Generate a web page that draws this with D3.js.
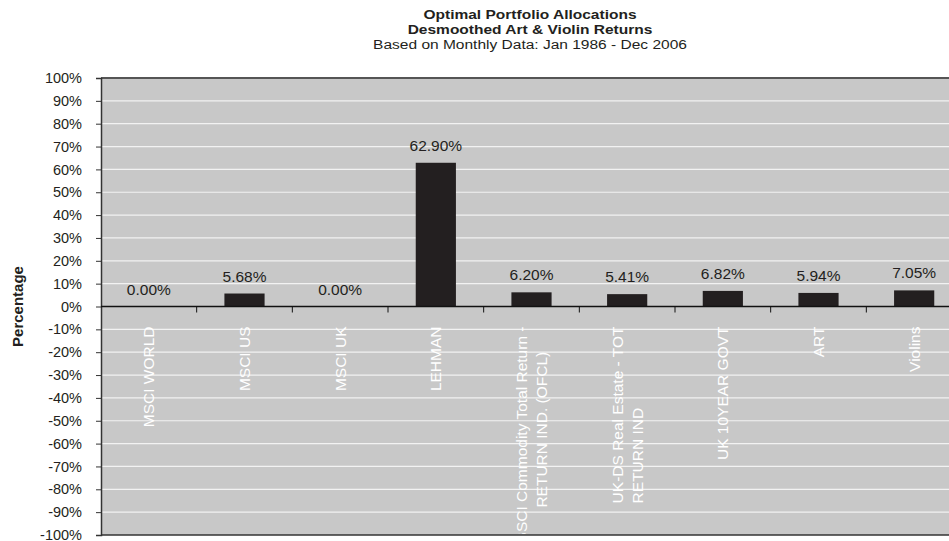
<!DOCTYPE html>
<head>
  <meta charset="utf-8" />
  <script src="https://d3js.org/d3.v7.min.js"></script>
  <style>
    body { margin: 0; background: #fff; }
    text { font-family: "Liberation Sans", Arial, sans-serif; }
  </style>
</head>
<body>
<script>
  // categories (label lines) and optimal weights
  var categories = ["MSCI WORLD", "MSCI US", "MSCI UK", "LEHMAN",
    "GSCI Commodity Total Return -|RETURN IND. (OFCL)",
    "UK-DS Real Estate - TOT|RETURN IND",
    "UK 10YEAR GOVT", "ART", "Violins"];
  var weights = [0.0000, 0.0568, 0.0000, 0.6290, 0.0620, 0.0541, 0.0682, 0.0594, 0.0705];
  var yTicks = d3.range(-10, 11).map(function (d) { return d / 10; });
  var titleLines = ["Optimal Portfolio Allocations", "Desmoothed Art & Violin Returns",
    "Based on Monthly Data: Jan 1986 - Dec 2006"];

  var width = 949, height = 541;
  // note: "top" is a reserved window property, so use plot* names
  var plotL = 101, plotR = 962, plotT = 78, plotB = 535;

  var svg = d3.select("body").append("svg")
    .attr("width", width).attr("height", height);

  var x = d3.scaleBand().domain(categories).range([plotL, plotR]).padding(0);
  var y = d3.scaleLinear().domain([-1, 1]).range([plotB, plotT]);

  // title (slightly wide lettering, tight leading)
  svg.append("g").selectAll("text").data(titleLines).join("text")
    .attr("transform", function (d, i) {
      return "translate(530," + (19 + i * 15) + ") scale(1.15,1)";
    })
    .attr("text-anchor", "middle")
    .attr("font-size", 13.5)
    .attr("font-weight", function (d, i) { return i < 2 ? "bold" : "normal"; })
    .attr("fill", "#231f20")
    .text(function (d) { return d; });

  // plot background
  svg.append("rect")
    .attr("x", plotL).attr("y", plotT)
    .attr("width", plotR - plotL).attr("height", plotB - plotT)
    .attr("fill", "#c8c8c8");

  // gridlines
  svg.append("g").selectAll("line")
    .data(yTicks.filter(function (d) { return Math.abs(d) > 0.001 && Math.abs(d) < 0.999; }))
    .join("line")
    .attr("x1", plotL).attr("x2", plotR)
    .attr("y1", function (d) { return y(d); }).attr("y2", function (d) { return y(d); })
    .attr("stroke", "#f2f2f2").attr("stroke-width", 1.2);

  // top / bottom borders
  svg.append("line").attr("x1", plotL).attr("x2", plotR)
    .attr("y1", plotT).attr("y2", plotT).attr("stroke", "#555").attr("stroke-width", 2);
  svg.append("line").attr("x1", plotL).attr("x2", plotR)
    .attr("y1", plotB).attr("y2", plotB).attr("stroke", "#333").attr("stroke-width", 1.5);

  // y axis
  var yAxis = d3.axisLeft(y).tickValues(yTicks)
    .tickSize(5).tickPadding(14)
    .tickFormat(function (d) { return Math.round(d * 100) + "%"; });
  var ya = svg.append("g").attr("transform", "translate(" + plotL + ",0)").call(yAxis);
  ya.select(".domain").attr("stroke", "#333").attr("stroke-width", 1.5);
  ya.selectAll(".tick line").attr("stroke", "#333");
  ya.selectAll(".tick text").attr("font-size", 14.5).attr("fill", "#231f20")
    .attr("font-family", "Liberation Sans, Arial, sans-serif");

  svg.append("text")
    .attr("transform", "translate(23," + y(0) + ") rotate(-90)")
    .attr("text-anchor", "middle")
    .attr("font-size", 15).attr("font-weight", "bold").attr("fill", "#231f20")
    .text("Percentage");

  // bars
  var barW = x.bandwidth() * 0.42;
  svg.append("g").selectAll("rect").data(weights).join("rect")
    .attr("x", function (d, i) { return x(categories[i]) + (x.bandwidth() - barW) / 2; })
    .attr("y", function (d) { return y(d); })
    .attr("width", barW)
    .attr("height", function (d) { return y(0) - y(d); })
    .attr("fill", "#231f20");

  // zero line with category ticks
  var xa = svg.append("g").attr("transform", "translate(0," + y(0) + ")");
  xa.append("line").attr("x1", plotL).attr("x2", plotR)
    .attr("stroke", "#111").attr("stroke-width", 1.5);
  xa.selectAll(".ctick").data(categories.slice(1)).join("line")
    .attr("class", "ctick")
    .attr("x1", function (d) { return x(d); }).attr("x2", function (d) { return x(d); })
    .attr("y1", 0).attr("y2", 6).attr("stroke", "#111");

  // value labels
  svg.append("g").selectAll("text").data(weights).join("text")
    .attr("x", function (d, i) { return x(categories[i]) + x.bandwidth() / 2; })
    .attr("y", function (d) { return y(d) - 12; })
    .attr("text-anchor", "middle")
    .attr("font-size", 15.5).attr("fill", "#231f20")
    .text(function (d) { return (d * 100).toFixed(2) + "%"; });

  // category labels, rotated, white, inside the plot (clipped to plot)
  svg.append("clipPath").attr("id", "plotclip").append("rect")
    .attr("x", plotL).attr("y", plotT)
    .attr("width", plotR - plotL).attr("height", plotB - plotT - 1);
  var lab = svg.append("g").attr("clip-path", "url(#plotclip)")
    .selectAll("g").data(categories).join("g")
    .attr("transform", function (d) {
      return "translate(" + (x(d) + x.bandwidth() / 2) + "," + (y(0) + 20) + ") rotate(-90)";
    });
  lab.each(function (d) {
    var g = d3.select(this);
    var lines = d.split("|");
    var n = lines.length;
    var first = g.append("text")
      .attr("x", 0).attr("y", (0 - (n - 1) / 2) * 20)
      .attr("dy", "0.35em")
      .attr("text-anchor", "end")
      .attr("font-size", 15.5).attr("fill", "#fff")
      .text(lines[0]);
    if (n > 1) {
      var len = first.node().getComputedTextLength();
      var startX = -Math.min(len, y(-0.88) - y(0) - 20);
      g.append("text")
        .attr("x", startX).attr("y", 10)
        .attr("dy", "0.35em")
        .attr("text-anchor", "start")
        .attr("font-size", 15.5).attr("fill", "#fff")
        .text(lines[1]);
    }
  });
</script>
</body>
